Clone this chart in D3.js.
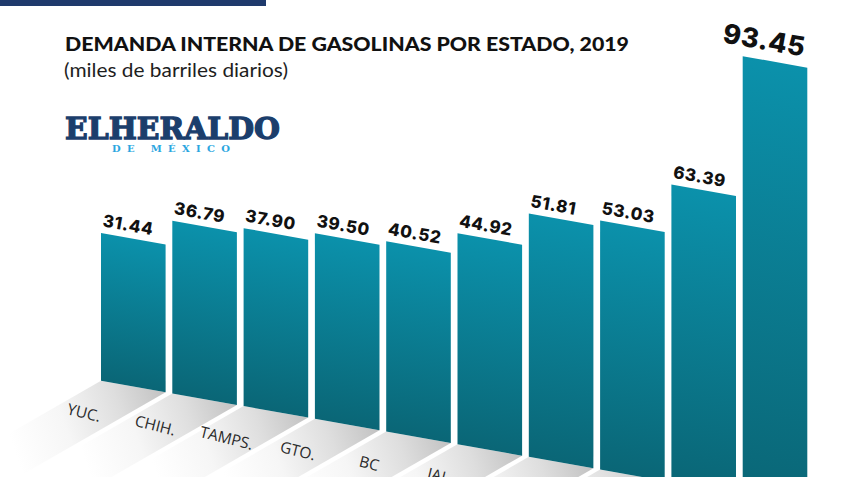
<!DOCTYPE html>
<html>
<head>
<meta charset="utf-8">
<script src="https://cdn.jsdelivr.net/npm/d3@7"></script>
<style>
  html, body { margin: 0; padding: 0; background: #ffffff; }
  svg { display: block; }
</style>
</head>
<body>
<div id="chart"></div>
<script>
// ---- data ----
const categories = ["YUC.", "CHIH.", "TAMPS.", "GTO.", "BC", "JAL.", "N.L.", "VER.", "CDMX", "EDOMEX"];
const values = [31.44, 36.79, 37.90, 39.50, 40.52, 44.92, 51.81, 53.03, 63.39, 93.45];
const valueLabels = ["31.44", "36.79", "37.90", "39.50", "40.52", "44.92", "51.81", "53.03", "63.39", "93.45"];
const titleText = "DEMANDA INTERNA DE GASOLINAS POR ESTADO, 2019";
const subtitleText = "(miles de barriles diarios)";

const W = 848, H = 477;
const svg = d3.select("#chart").append("svg").attr("width", W).attr("height", H);
const defs = svg.append("defs");

// perspective parameters
const originX = 101, originY = 380.7;     // bottom-left corner of first bar
const slope = 0.178;                       // skew of base / tops
const skewDeg = Math.atan(slope) * 180 / Math.PI;
const baseY = x => originY + slope * (x - originX);

const x = d3.scaleBand().domain(categories).range([101, 807.3]).paddingInner(0.094).paddingOuter(0);
const h = d3.scaleLinear().domain([0, 100]).range([0, 469.5]);

// top navy strip
svg.append("rect").attr("x", 0).attr("y", 0).attr("width", 266).attr("height", 6).attr("fill", "#1f3a6c");

// bar gradient
const bg = defs.append("linearGradient").attr("id", "barGrad").attr("x1", 0).attr("y1", 0).attr("x2", 0).attr("y2", 1);
bg.append("stop").attr("offset", "0%").attr("stop-color", "#0b91ab");
bg.append("stop").attr("offset", "100%").attr("stop-color", "#0a6676");

// floor strips (drawn in screen coordinates)
const dir = [-1, 0.575];
const L = 150;
const floorG = svg.append("g");
categories.forEach((c, i) => {
  const x0 = x(c), x1 = x(c) + x.bandwidth();
  const p1 = [x0, baseY(x0)], p2 = [x1, baseY(x1)];
  const p3 = [x1 + dir[0] * L, baseY(x1) + dir[1] * L];
  const p4 = [x0 + dir[0] * L, baseY(x0) + dir[1] * L];
  const gid = "fl" + i;
  const g = defs.append("linearGradient").attr("id", gid).attr("gradientUnits", "userSpaceOnUse")
    .attr("x1", p2[0] - 2).attr("y1", p2[1] - 4)
    .attr("x2", p1[0] + dir[0] * 80 - 10).attr("y2", p1[1] + dir[1] * 80 + 14);
  g.append("stop").attr("offset", "0%").attr("stop-color", "#c2c2c2");
  g.append("stop").attr("offset", "30%").attr("stop-color", "#dedede");
  g.append("stop").attr("offset", "65%").attr("stop-color", "#f6f6f6");
  g.append("stop").attr("offset", "100%").attr("stop-color", "#ffffff");
  floorG.append("path")
    .attr("d", d3.line()([p1, p2, p3, p4]) + "Z")
    .attr("fill", `url(#${gid})`);
});

// bars in a skewed group
const barG = svg.append("g").attr("transform", `translate(${originX},${originY}) skewY(${skewDeg})`);
barG.selectAll("rect").data(values).join("rect")
  .attr("x", (d, i) => x(categories[i]) - originX)
  .attr("y", d => -h(d))
  .attr("width", x.bandwidth())
  .attr("height", d => h(d))
  .attr("fill", "url(#barGrad)");

// value labels
const maxV = d3.max(values);
svg.append("g").selectAll("text").data(values).join("text")
  .attr("transform", (d, i) => {
    const big = d === maxV;
    const lx = big ? x(categories[i]) - 21 : x(categories[i]) + 1;
    const top = baseY(lx) - h(d);
    const ly = big ? baseY(x(categories[i])) - h(d) - 14 : top - 7;
    return `translate(${lx},${ly}) rotate(${skewDeg})`;
  })
  .attr("font-family", "Inter, 'DejaVu Sans', sans-serif")
  .attr("font-weight", 800)
  .attr("font-size", d => d === maxV ? 27 : 17)
  .attr("letter-spacing", d => d === maxV ? 0.5 : 0.6)
  .attr("fill", "#111")
  .text((d, i) => valueLabels[i]);

// category labels on the floor
svg.append("g").selectAll("text").data(categories).join("text")
  .attr("transform", (c) => {
    const cx = x(c) - 17;
    const cy = baseY(x(c)) + 32;
    return `translate(${cx},${cy}) rotate(14)`;
  })
  .attr("text-anchor", "middle")
  .attr("dy", "0.35em")
  .attr("font-family", "'Open Sans', sans-serif")
  .attr("font-weight", 400)
  .attr("font-size", 15.5)
  .attr("fill", "#2a2a2a")
  .text(d => d);

// title
svg.append("text").attr("x", 65).attr("y", 51)
  .attr("font-family", "Lato, sans-serif").attr("font-weight", 900).attr("font-size", 18.5)
  .attr("fill", "#111")
  .attr("textLength", 564).attr("lengthAdjust", "spacingAndGlyphs")
  .text(titleText);
svg.append("text").attr("x", 64).attr("y", 77)
  .attr("font-family", "Lato, sans-serif").attr("font-weight", 400).attr("font-size", 18.5)
  .attr("fill", "#1e1e1e")
  .attr("textLength", 224).attr("lengthAdjust", "spacingAndGlyphs")
  .text(subtitleText);

// logo
svg.append("text").attr("x", 65).attr("y", 138.5)
  .attr("font-family", "'DejaVu Serif', 'Liberation Serif', serif").attr("font-weight", 700).attr("font-size", 30)
  .attr("fill", "#1b3e6c").attr("stroke", "#1b3e6c").attr("stroke-width", 1.3)
  .attr("textLength", 215).attr("lengthAdjust", "spacingAndGlyphs")
  .text("ELHERALDO");
svg.append("text").attr("x", 112).attr("y", 152)
  .attr("font-family", "'DejaVu Serif', 'Liberation Serif', serif").attr("font-weight", 700).attr("font-size", 10)
  .attr("fill", "#2ba6df")
  .attr("textLength", 118).attr("lengthAdjust", "spacing")
  .text("DE  MÉXICO");
</script>
</body>
</html>
